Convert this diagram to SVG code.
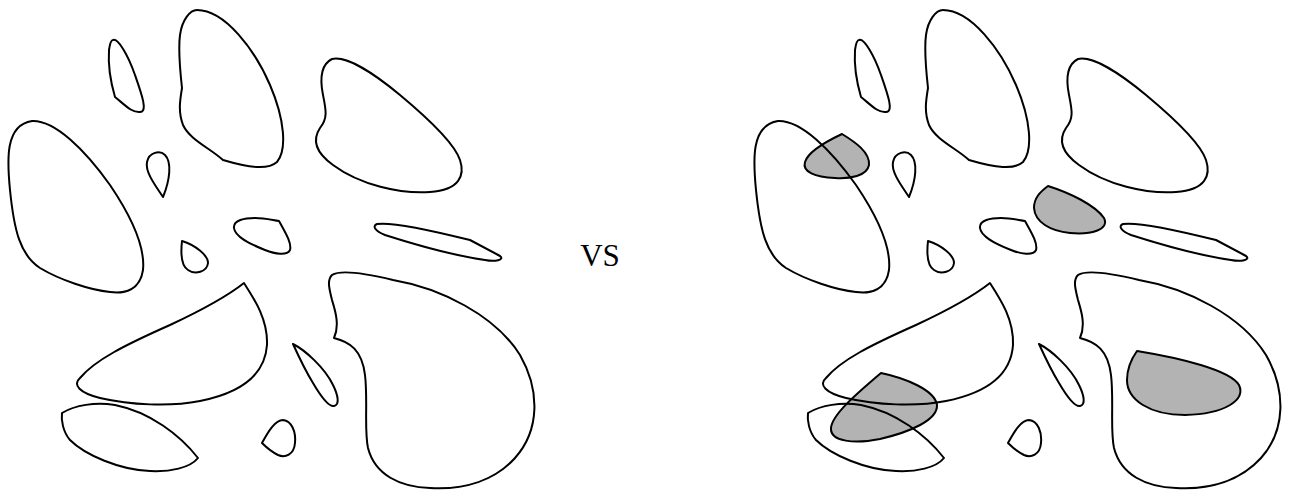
<svg xmlns="http://www.w3.org/2000/svg" width="1292" height="493" viewBox="0 0 1292 493">
<defs>
<style>
.o{fill:none;stroke:#000;stroke-width:2;stroke-linejoin:round}
.g{fill:#b3b3b3;stroke:#000;stroke-width:2;stroke-linejoin:round}
.t{font-family:"Liberation Serif",serif;font-size:31px;fill:#000}
</style>
<g id="blobs">
<path id="bA" d="M32,121 C55,120 85,150 110,185 C135,222 145,250 143,270 C140,290 125,294 110,292 C90,290 60,280 40,268 C20,255 14,230 10,190 C7,160 5,125 32,121 Z"/>
<path id="bB" d="M163,197 C155,185 145,172 147,162 C149,152 160,150 165,155 C172,162 170,180 163,197 Z"/>
<path id="bC" d="M197,10 C225,10 255,50 270,85 C285,120 287,150 277,162 C268,170 250,168 223,160 C210,148 190,140 183,125 C178,112 180,100 182,88 C180,70 178,50 180,35 C182,20 190,10 197,10 Z"/>
<path id="bD" d="M113,40 C118,38 128,55 135,75 C142,95 148,112 140,112 C132,113 125,105 115,97 C110,80 108,65 109,50 C110,43 111,40 113,40 Z"/>
<path id="bE" d="M332,59 C345,56 370,70 400,95 C430,120 455,145 460,160 C465,175 460,190 430,192 C400,194 360,185 333,165 C315,152 312,140 320,128 C328,118 326,110 323,95 C320,80 320,65 332,59 Z"/>
<path id="bF" d="M377,224 C390,222 430,230 470,240 L500,256 C505,260 495,262 485,260 C450,255 410,243 385,235 C375,231 372,226 377,224 Z"/>
<path id="bG" d="M182,241 C195,245 208,255 208,263 C207,272 195,275 188,270 C180,265 181,250 182,241 Z"/>
<path id="bH" d="M279,221 C285,232 292,243 290,250 C287,256 275,254 265,250 C250,244 235,237 234,228 C233,220 245,218 255,218 C265,218 272,220 279,221 Z"/>
<path id="bI" d="M244,283 C255,300 268,320 267,345 C265,375 240,393 200,401 C170,407 130,405 100,398 C80,393 72,385 80,378 C95,360 125,345 170,325 C200,311 225,298 244,283 Z"/>
<path id="bJ" d="M62,413 C75,405 95,402 115,405 C150,412 180,435 198,458 C190,468 170,472 150,471 C120,470 85,455 70,440 C63,432 61,420 62,413 Z"/>
<path id="bK" d="M262,443 C268,432 275,420 283,420 C292,421 296,432 295,443 C294,455 285,458 278,455 C272,452 266,447 262,443 Z"/>
<path id="bL" d="M293,344 C305,350 325,368 333,385 C338,395 340,405 334,406 C328,407 320,395 313,383 C305,370 298,355 293,344 Z"/>
<path id="bM" d="M332,275 C340,270 360,272 393,280 C440,288 495,315 520,355 C540,390 540,430 515,458 C495,480 465,490 430,488 C400,487 375,475 368,448 C364,430 368,400 365,375 C362,350 350,342 334,338 C340,325 335,310 332,300 C329,288 327,280 332,275 Z"/>
</g>
</defs>
<rect width="1292" height="493" fill="#fff"/>
<g id="left">
<use href="#blobs" class="o"/>
</g>
<g id="label">
<text class="t" x="600" y="266" text-anchor="middle">VS</text>
</g>
<g id="right">
<g id="shaded">
<path class="g" d="M842,134 C855,142 870,152 869,165 C867,176 850,179 835,178 C815,177 802,172 805,162 C808,152 825,142 842,134 Z"/>
<path class="g" d="M1048,186 C1070,193 1095,205 1104,218 C1110,230 1090,235 1070,233 C1050,231 1035,222 1034,208 C1034,198 1040,192 1048,186 Z"/>
<path class="g" d="M881,373 C905,378 935,390 937,405 C938,420 910,432 880,439 C855,444 830,442 831,428 C832,415 855,395 881,373 Z"/>
<path class="g" d="M1137,351 C1180,358 1230,370 1239,385 C1246,400 1225,414 1185,415 C1150,415 1127,400 1127,380 C1127,368 1132,358 1137,351 Z"/>
</g>
<use href="#blobs" class="o" transform="translate(746,0)"/>
</g>
</svg>
